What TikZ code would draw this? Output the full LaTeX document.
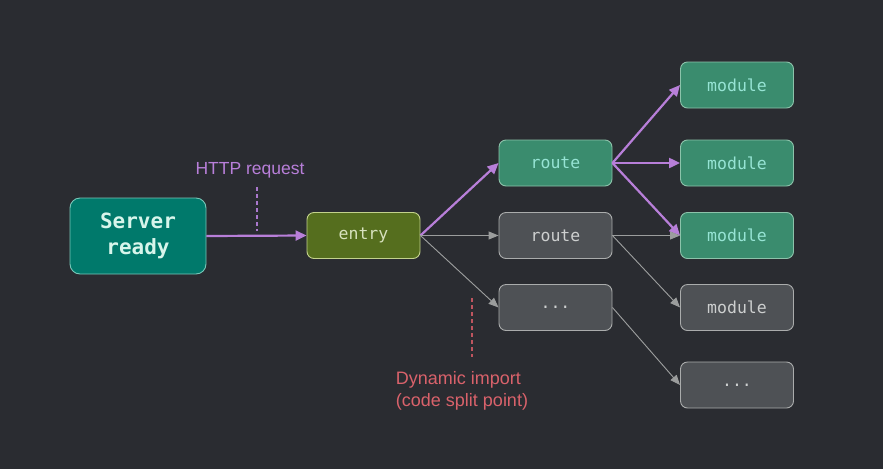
\documentclass[tikz,border=0pt]{standalone}
\usepackage{fontspec}
\setmainfont{Liberation Sans}
\setmonofont{DejaVu Sans Mono}
\usetikzlibrary{arrows.meta}
\definecolor{bg}{RGB}{42,44,49}
\definecolor{srvfill}{RGB}{0,121,107}
\definecolor{srvborder}{RGB}{120,200,185}
\definecolor{srvtext}{RGB}{215,245,235}
\definecolor{entfill}{RGB}{85,110,30}
\definecolor{entborder}{RGB}{195,210,140}
\definecolor{enttext}{RGB}{215,225,190}
\definecolor{grnfill}{RGB}{58,140,110}
\definecolor{grnborder}{RGB}{140,195,170}
\definecolor{grntext}{RGB}{150,228,212}
\definecolor{gryfill}{RGB}{78,81,85}
\definecolor{gryborder}{RGB}{170,172,172}
\definecolor{grytext}{RGB}{205,207,207}
\definecolor{purp}{RGB}{184,127,217}
\definecolor{purpdash}{RGB}{170,120,205}
\definecolor{arrgray}{RGB}{155,157,157}
\definecolor{redtxt}{RGB}{217,98,107}
\definecolor{reddash}{RGB}{190,85,95}
\tikzset{
  box/.style={rounded corners=7pt, minimum width=113pt, minimum height=46pt, line width=0.9pt, font=\ttfamily\fontsize{16.5}{19}\selectfont, inner sep=0pt},
  grnbox/.style={box, fill=grnfill, draw=grnborder, text=grntext},
  grybox/.style={box, fill=gryfill, draw=gryborder, text=grytext},
  parrow/.style={draw=purp, line width=2.2pt, -{Triangle[length=11pt,width=10pt]}, fill=purp},
  garrow/.style={draw=arrgray, line width=0.9pt, -{Triangle[length=10pt,width=8pt]}, fill=arrgray},
  dashln/.style={line width=1.1pt, dash pattern=on 4pt off 3pt},
}
\begin{document}
\begin{tikzpicture}[x=1pt,y=-1pt]
\useasboundingbox (0,0) rectangle (883,469);
\fill[bg] (0,0) rectangle (883,469);

\node[rounded corners=10pt, minimum width=136pt, minimum height=76pt, fill=srvfill, draw=srvborder, line width=0.9pt, text=srvtext, font=\ttfamily\bfseries\fontsize{21}{26}\selectfont, align=center, inner sep=0pt] (srv) at (138,236) {Server\\ready};

\node[box, fill=entfill, draw=entborder, text=enttext] (entry) at (363.5,235.5) {entry};

\node[grnbox] (r1) at (555.5,163) {route};
\node[grybox] (r2) at (555.5,235.5) {route};
\node[grybox] (r3) at (555.5,307.5) {...};

\node[grnbox] (m1) at (737,85) {module};
\node[grnbox] (m2) at (737,163) {module};
\node[grnbox] (m3) at (737,235.5) {module};
\node[grybox] (m4) at (737,307.5) {module};
\node[grybox] (m5) at (737,385) {...};

\draw[parrow] (srv.east) -- (entry.west);
\draw[parrow] (entry.east) -- (r1.west);
\draw[garrow] (entry.east) -- (r2.west);
\draw[garrow] (entry.east) -- (r3.west);
\draw[parrow] (r1.east) -- (m1.west);
\draw[parrow] (r1.east) -- (m2.west);
\draw[parrow] (r1.east) -- (m3.west);
\draw[garrow] (r2.east) -- (m3.west);
\draw[garrow] (r2.east) -- (m4.west);
\draw[garrow] (r3.east) -- (m5.west);

\node[text=purp, font=\fontsize{17.5}{20}\selectfont, inner sep=0pt] (http) at (250,170) {HTTP request};
\coordinate (h1) at (257,187);
\coordinate (h2) at (257,231);
\draw[purpdash, dashln] (h1) -- (h2);

\node[text=redtxt, font=\fontsize{18}{22}\selectfont, align=left, inner sep=0pt] (dyn) at (462,391) {Dynamic import\\(code split point)};
\coordinate (d1) at (472,298);
\coordinate (d2) at (472,357);
\draw[reddash, dashln] (d1) -- (d2);
\end{tikzpicture}
\end{document}
